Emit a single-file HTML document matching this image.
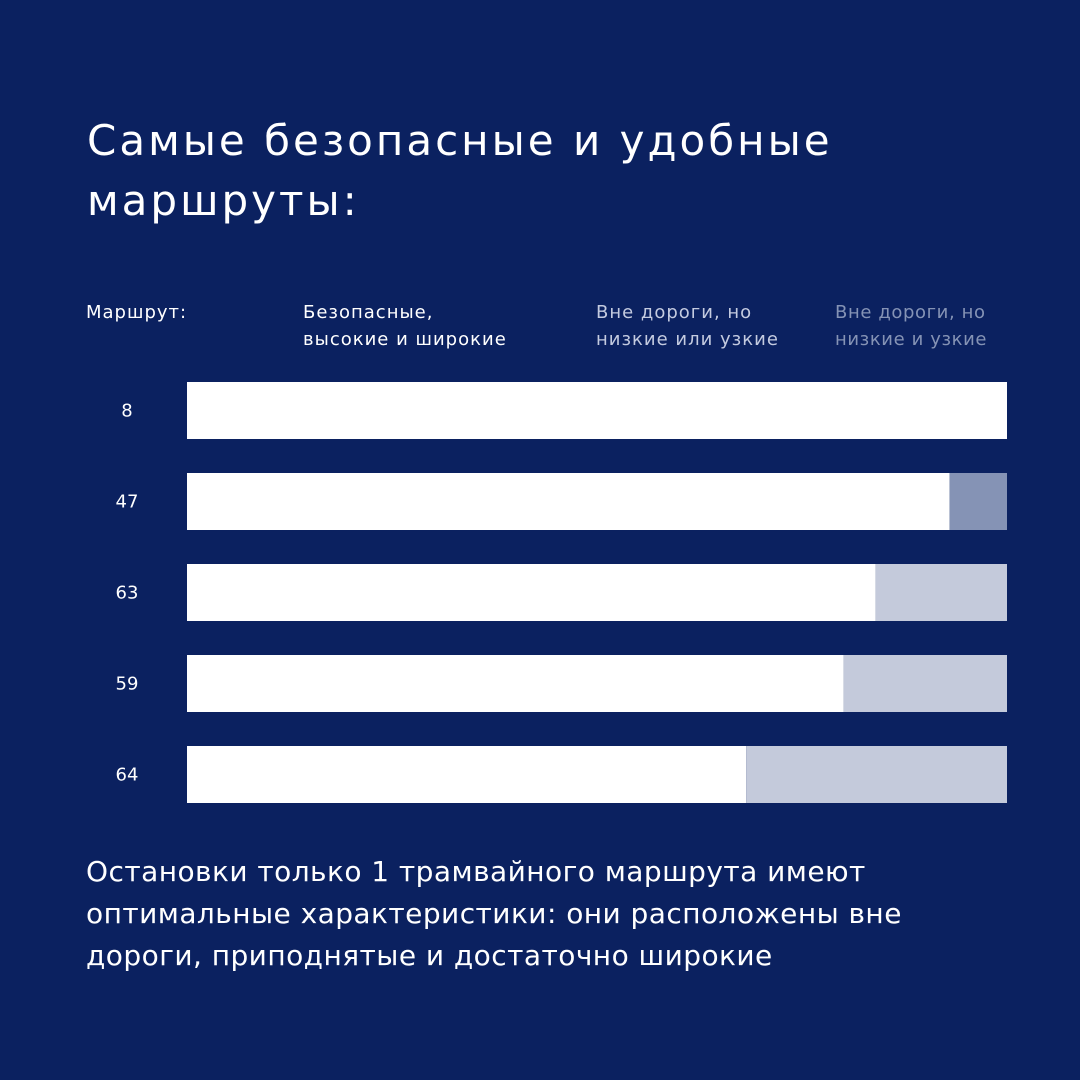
<!DOCTYPE html>
<html><head><meta charset="utf-8"><style>
body{margin:0;width:1080px;height:1080px;background:#0b2160;font-family:"DejaVu Sans","Liberation Sans",sans-serif;color:#fff;position:relative;overflow:hidden}
.t{position:absolute;white-space:nowrap}
.lg{font-size:18px;line-height:27px;letter-spacing:1px}
</style></head><body>
<div class="t" style="left:87px;top:111px;font-size:42px;line-height:60px;letter-spacing:3px">Самые безопасные и удобные<br>маршруты:</div>
<div class="t lg" style="left:86px;top:299px">Маршрут:</div>
<div class="t lg" style="left:303px;top:299px">Безопасные,<br>высокие и широкие</div>
<div class="t lg" style="left:596px;top:299px;color:#c4cbe0">Вне дороги, но<br>низкие или узкие</div>
<div class="t lg" style="left:835px;top:299px;color:#8593b5;letter-spacing:0.6px">Вне дороги, но<br>низкие и узкие</div>
<svg id="c" class="t" style="left:0;top:0" width="1080" height="1080"></svg>
<div class="t" style="left:86px;top:851px;font-size:28px;line-height:42px;letter-spacing:0.45px">Остановки только 1 трамвайного маршрута имеют<br>оптимальные характеристики: они расположены вне<br>дороги, приподнятые и достаточно широкие</div>
<script>
const routes=["8","47","63","59","64"];
const safe=[100,93,84,80.1,68.2];
const lowOrNarrow=[0,0,16,19.9,31.8];
const lowAndNarrow=[0,7,0,0,0];
const svg=document.getElementById('c');
const NS='http://www.w3.org/2000/svg';
const x0=187,w=820,y0=382,pitch=91,h=57;
const xs=v=>v/100*w;
routes.forEach((r,i)=>{
  const y=y0+i*pitch;
  const lab=document.createElementNS(NS,'text');
  lab.setAttribute('x',127);lab.setAttribute('y',y+h/2+6);lab.setAttribute('text-anchor','middle');
  lab.setAttribute('fill','#fff');lab.setAttribute('font-size','18');lab.setAttribute('font-family','DejaVu Sans, Liberation Sans, sans-serif');
  lab.textContent=r;
  
  
  svg.appendChild(lab);
  let x=x0;
  [[safe[i],'#ffffff'],[lowOrNarrow[i],'#c4cadb'],[lowAndNarrow[i],'#8593b5']].forEach(([v,col],k)=>{
    if(v<=0)return;
    const rc=document.createElementNS(NS,'rect');
    rc.setAttribute('x',x);rc.setAttribute('y',y);rc.setAttribute('width',xs(v));rc.setAttribute('height',h);rc.setAttribute('fill',col);
    
    
    svg.appendChild(rc);x+=xs(v);
  });
});
</script>
</body></html>
